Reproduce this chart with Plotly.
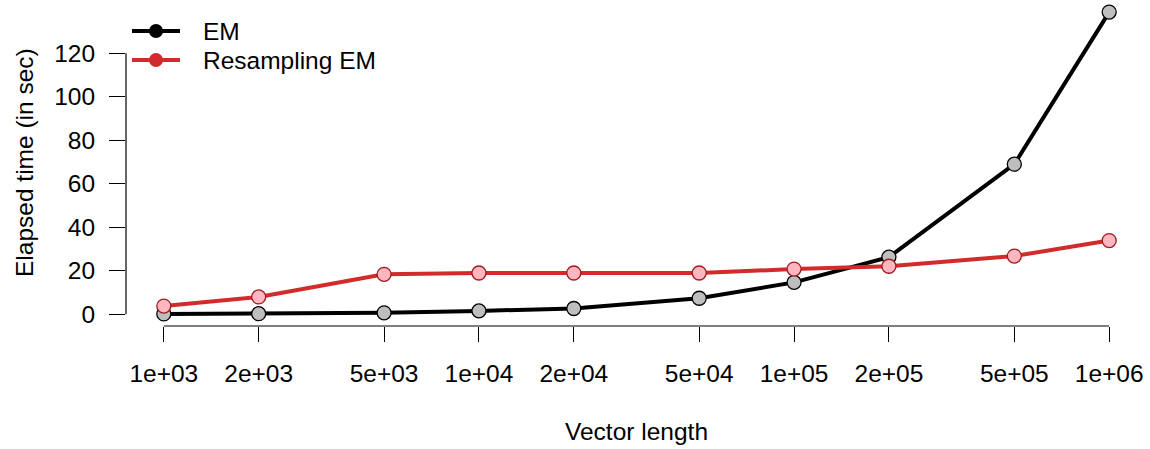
import plotly.graph_objects as go
import math

# ---- data ----
vector_length = [1e3, 2e3, 5e3, 1e4, 2e4, 5e4, 1e5, 2e5, 5e5, 1e6]
em_time = [0.2, 0.3, 0.7, 1.6, 2.7, 7.4, 14.7, 26.3, 69.0, 138.9]
resampling_em_time = [3.8, 8.0, 18.4, 19.0, 19.0, 19.0, 20.8, 22.1, 26.8, 33.9]
x_tick_labels = ["1e+03", "2e+03", "5e+03", "1e+04", "2e+04", "5e+04", "1e+05", "2e+05", "5e+05", "1e+06"]
y_ticks = [0, 20, 40, 60, 80, 100, 120]
series_names = ["EM", "Resampling EM"]

FONT = "Liberation Sans, Arial, Helvetica, sans-serif"
FS = 24.5
RED = "#D22B2B"
LINE_COLORS = ["black", RED]
FILL_COLORS = ["#BEBEBE", "#FFB6C1"]
EDGE_COLORS = ["black", "#9E1B1B"]

W, H = 1150, 449
ML, MR, MT, MB = 126, 3, 0, 123
PW, PH = W - ML - MR, H - MT - MB

# R-style 4% axis extension
lx = [math.log10(v) for v in vector_length]
xr = [min(lx), max(lx)]
dx = (xr[1] - xr[0]) * 0.04
x_range = [xr[0] - dx, xr[1] + dx]
ymin = min(em_time + resampling_em_time)
ymax = max(em_time + resampling_em_time)
dy = (ymax - ymin) * 0.04
y_range = [ymin - dy, ymax + dy]

fig = go.Figure()
for name, ys, lc, fc, ec in zip(series_names, [em_time, resampling_em_time], LINE_COLORS, FILL_COLORS, EDGE_COLORS):
    fig.add_trace(go.Scatter(
        x=vector_length, y=ys, mode="lines+markers", name=name, showlegend=False,
        line=dict(color=lc, width=4),
        marker=dict(size=14, color=fc, line=dict(color=ec, width=1.3)),
    ))

def px_x(p):
    return (p - ML) / PW

def px_y(p):
    return 1 - (p - MT) / PH

# axis lines spanning only the tick range (R style)
fx0 = (math.log10(vector_length[0]) - x_range[0]) / (x_range[1] - x_range[0])
fx1 = (math.log10(vector_length[-1]) - x_range[0]) / (x_range[1] - x_range[0])
shapes = [
    dict(type="line", xref="x domain", yref="y domain", x0=fx0, x1=fx1, y0=0, y1=0,
         line=dict(color="black", width=1.2)),
    dict(type="line", xref="x domain", yref="y", x0=0, x1=0, y0=y_ticks[0], y1=y_ticks[-1],
         line=dict(color="black", width=1.2)),
]
annotations = [
    dict(text="Vector length", xref="paper", yref="paper", x=0.5, y=px_y(432),
         xanchor="center", yanchor="middle", showarrow=False, font=dict(size=FS)),
    dict(text="Elapsed time (in sec)", xref="paper", yref="paper", x=px_x(24), y=0.5,
         xanchor="center", yanchor="middle", textangle=-90, showarrow=False, font=dict(size=FS)),
]

# legend (top-left, solid points on lines as in R's legend)
legend_rows = [31, 60]
for name, lc, ry in zip(series_names, LINE_COLORS, legend_rows):
    shapes.append(dict(type="line", xref="paper", yref="paper", x0=px_x(132), x1=px_x(180),
                       y0=px_y(ry), y1=px_y(ry), line=dict(color=lc, width=4)))
    shapes.append(dict(type="circle", xref="paper", yref="paper", xsizemode="pixel", ysizemode="pixel",
                       xanchor=px_x(156), yanchor=px_y(ry), x0=-7, x1=7, y0=-7, y1=7,
                       fillcolor=lc, line=dict(color=lc, width=0)))
    annotations.append(dict(text=name, xref="paper", yref="paper", x=px_x(201), y=px_y(ry),
                            xanchor="left", yanchor="middle", showarrow=False, font=dict(size=FS)))

fig.update_layout(
    width=W, height=H,
    margin=dict(l=ML, r=MR, t=MT, b=MB),
    paper_bgcolor="white", plot_bgcolor="white",
    font=dict(family=FONT, size=FS, color="black"),
    shapes=shapes, annotations=annotations,
    showlegend=False,
)
fig.update_xaxes(type="log", range=x_range, showgrid=False, zeroline=False, showline=False,
                 tickvals=vector_length, ticktext=x_tick_labels, ticks="outside", ticklen=15,
                 tickwidth=1.2, tickcolor="black", ticklabelstandoff=11)
fig.update_yaxes(range=y_range, showgrid=False, zeroline=False, showline=False,
                 tickvals=y_ticks, ticks="outside", ticklen=16, tickwidth=1.2, tickcolor="black",
                 ticklabelstandoff=9)

fig.write_html("out.html", config={"displayModeBar": False},
               post_script="document.body.style.margin='0';document.body.style.overflow='hidden';")
